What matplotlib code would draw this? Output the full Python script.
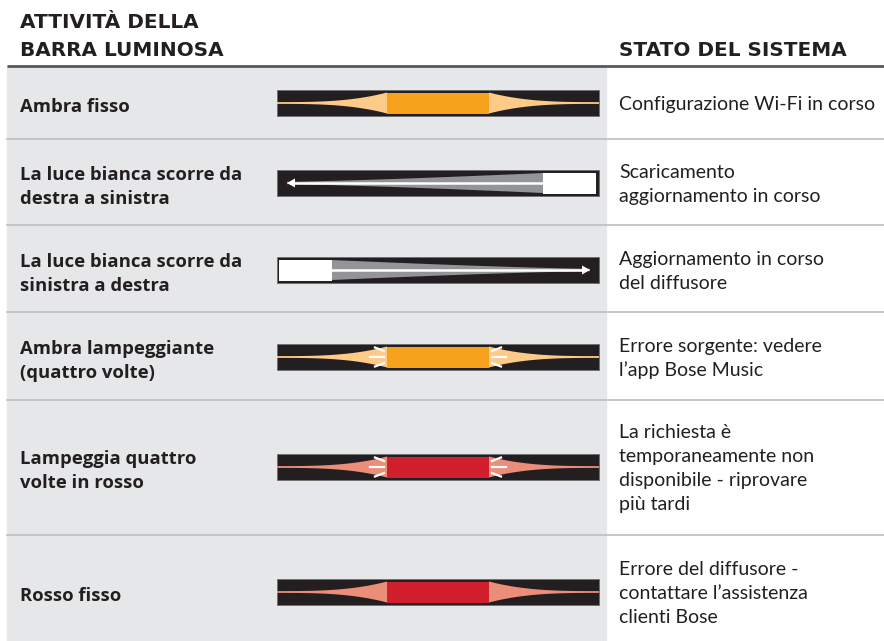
import numpy as np
import matplotlib.pyplot as plt
from matplotlib.patches import Rectangle, Polygon

# table content
labels = ["Ambra fisso",
          "La luce bianca scorre da\ndestra a sinistra",
          "La luce bianca scorre da\nsinistra a destra",
          "Ambra lampeggiante\n(quattro volte)",
          "Lampeggia quattro\nvolte in rosso",
          "Rosso fisso"]
statuses = ["Configurazione Wi-Fi in corso",
            "Scaricamento\naggiornamento in corso",
            "Aggiornamento in corso\ndel diffusore",
            "Errore sorgente: vedere\nl’app Bose Music",
            "La richiesta è\ntemporaneamente non\ndisponibile - riprovare\npiù tardi",
            "Errore del diffusore -\ncontattare l’assistenza\nclienti Bose"]
patterns = ["solid", "left", "right", "blink", "blink", "solid"]
core_colors = ["#f7a21c", "white", "white", "#f7a21c", "#d21f2e", "#d21f2e"]
glow_colors = ["#fdca88", "#929497", "#929497", "#fdca88", "#ea8e7a", "#ea8e7a"]
row_edges = [66, 139, 225, 312, 400, 535, 649]
bar_centers = [103, 183, 270, 357, 467, 592]

TXT = "#231f20"
HEAD_FONT = "DejaVu Sans"
BOLD_FONT = "Open Sans"
FONT = "Lato"

fig = plt.figure(figsize=(8.84, 6.41), dpi=100)
ax = fig.add_axes([0, 0, 1, 1])
ax.set_xlim(0, 884)
ax.set_ylim(641, 0)
ax.axis("off")

# grey panel behind the left two columns
ax.add_patch(Rectangle((7, 66), 599, 641 - 66, color="#e6e7e8", zorder=0))

# headers
hdr = dict(fontsize=14.4, fontweight="bold", family=HEAD_FONT, color=TXT,
           va="center_baseline")
ax.text(20, 21, "ATTIVITÀ DELLA", **hdr)
ax.text(20, 48, "BARRA LUMINOSA", **hdr)
ax.text(619, 48, "STATO DEL SISTEMA", **hdr)
ax.plot([7, 884], [66, 66], color="#58595b", lw=2, solid_capstyle="butt", zorder=3)
for y in row_edges[1:-1]:
    ax.plot([7, 884], [y, y], color="#bcbec0", lw=1.2, zorder=3)


def draw_lines(x, yc, text, family, **kw):
    lines = text.split("\n")
    n = len(lines)
    for i, ln in enumerate(lines):
        ax.text(x, yc + (i - (n - 1) / 2) * 24, ln, va="center_baseline",
                family=family, color=TXT, **kw)


def glow(x0, x1, yc, h0, hmin, k, color):
    t = np.linspace(0, 1, 60)
    xs = x0 + (x1 - x0) * t
    hs = hmin + (h0 - hmin) * (1 - t) ** k
    pts = np.concatenate([np.column_stack([xs, yc - hs]),
                          np.column_stack([xs[::-1], (yc + hs)[::-1]])])
    ax.add_patch(Polygon(pts, closed=True, color=color, lw=0, zorder=3))


BX0, BX1 = 277, 599
CX0, CX1 = 387, 489

for i in range(len(labels)):
    yb = bar_centers[i]
    draw_lines(20, yb + 2, labels[i], BOLD_FONT, fontsize=13.3, fontweight="bold")
    draw_lines(619, yb, statuses[i], FONT, fontsize=14)

    ax.add_patch(Rectangle((BX0, yb - 13), BX1 - BX0, 26, facecolor="#231f20",
                           edgecolor="#6d6e71", lw=0.6, zorder=2))
    p = patterns[i]
    if p in ("solid", "blink"):
        glow(CX0, BX0, yb, 10.5, 0.9, 3, glow_colors[i])
        glow(CX1, BX1, yb, 10.5, 0.9, 3, glow_colors[i])
        ax.add_patch(Rectangle((CX0, yb - 10.5), CX1 - CX0, 21,
                               color=core_colors[i], lw=0, zorder=4))
        if p == "blink":
            for sx, xe in ((-1, CX0 - 3), (1, CX1 + 3)):
                ax.plot([xe, xe + sx * 14], [yb, yb], color="white", lw=1.6, zorder=5)
                ax.plot([xe, xe + sx * 9], [yb - 6, yb - 9.5], color="white", lw=1.6, zorder=5)
                ax.plot([xe, xe + sx * 9], [yb + 6, yb + 9.5], color="white", lw=1.6, zorder=5)
    else:
        if p == "left":
            rx0, rx1, tip = 543, 596, 287
            edge = rx0
        else:
            rx0, rx1, tip = 279, 332, 590
            edge = rx1
        glow(edge, tip, yb, 10, 1.2, 1.3, glow_colors[i])
        ax.add_patch(Rectangle((rx0, yb - 10.5), rx1 - rx0, 21,
                               color="white", lw=0, zorder=4))
        d = 1 if p == "right" else -1
        ax.plot([edge, tip - d * 6], [yb, yb], color="white", lw=1.8, zorder=5)
        ax.add_patch(Polygon([(tip, yb), (tip - d * 8, yb - 4.5), (tip - d * 8, yb + 4.5)],
                             closed=True, color="white", lw=0, zorder=5))

fig.savefig("out.png", dpi=100)
